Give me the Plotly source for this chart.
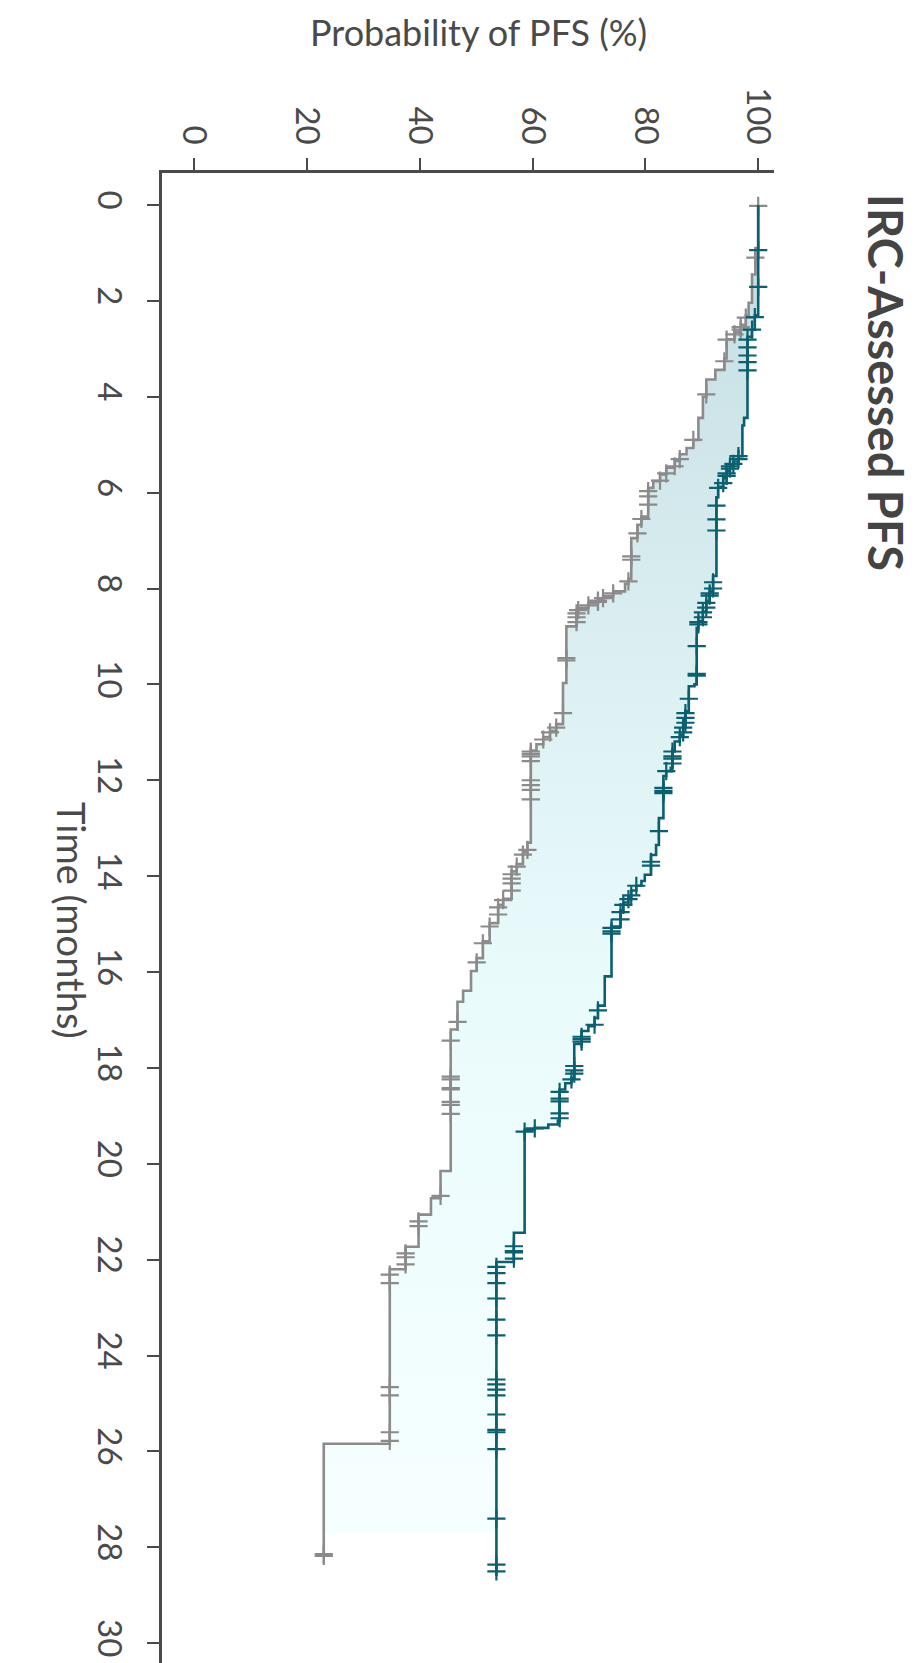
import numpy as np
import plotly.graph_objects as go

# --- data (time in months, PFS in %) ---
ctrl_times = [0, 0.9, 1.45, 2.04, 2.3, 2.5, 2.65, 2.8, 3.2, 3.44, 3.64, 4.0, 4.44, 4.9,
              5.07, 5.2, 5.34, 5.48, 5.62, 5.76, 5.9, 6.5, 6.67, 6.95, 7.8, 7.9, 8.06,
              8.16, 8.22, 8.3, 8.4, 8.5, 8.79, 9.97, 10.83, 10.97, 11.1, 11.25, 11.38,
              13.3, 13.5, 13.75, 13.9, 14.47, 14.6, 14.98, 15.36, 15.71, 15.98, 16.39,
              16.62, 17.2, 20.15, 20.72, 21.06, 21.73, 22.2, 25.84]
ctrl_surv = [100, 99.5, 98.9, 98.3, 97.8, 96.9, 95.8, 94.4, 94.0, 92.4, 90.8, 90.2, 89.4, 88.5,
             87.3, 86.1, 85.2, 83.7, 82.6, 81.4, 80.5, 79.3, 78.6, 77.5, 77.0, 76.4, 74.3,
             72.5, 71.6, 69.9, 68.1, 67.8, 66.0, 65.4, 64.2, 63.1, 61.9, 60.7, 59.7,
             59.1, 58.3, 57.2, 56.3, 54.8, 53.9, 52.4, 51.2, 50.1, 49.1, 47.7,
             46.7, 45.5, 43.7, 42.0, 39.8, 37.5, 34.7, 23.0]
ctrl_end = 28.2
ctrl_censor = [0.02, 1.1, 2.35, 2.55, 2.6, 2.7, 2.81, 3.26, 3.95, 4.9, 5.3, 5.45, 5.6, 5.75,
               5.97, 6.08, 6.25, 6.55, 6.85, 7.33, 7.4, 7.85, 8.1, 8.2, 8.25, 8.28, 8.35,
               8.45, 8.52, 8.6, 8.7, 9.45, 9.5, 10.6, 10.9, 11.0, 11.15, 11.4, 11.45, 11.5,
               11.6, 12.0, 12.1, 12.2, 12.4, 13.45, 13.55, 13.8, 13.96, 14.05, 14.15, 14.3,
               14.5, 14.65, 14.8, 15.05, 15.4, 15.8, 17.04, 17.43, 18.18, 18.24, 18.42,
               18.45, 18.71, 18.77, 18.96, 20.67, 21.2, 21.3, 21.87, 21.95, 22.1, 22.31,
               22.49, 24.66, 24.83, 25.6, 25.78, 28.14, 28.18]

trt_times = [0, 2.3, 2.6, 2.75, 4.44, 4.6, 5.24, 5.35, 5.45, 5.55, 5.7, 5.88, 6.1, 7.74,
             8.06, 8.27, 8.48, 8.68, 8.82, 10.0, 10.04, 10.56, 10.84, 11.05, 11.19, 11.4,
             11.74, 11.81, 11.91, 12.79, 13.35, 13.56, 13.97, 14.1, 14.2, 14.3, 14.44,
             14.55, 14.72, 15.05, 16.09, 16.7, 16.96, 17.13, 17.23, 17.5, 18.21, 18.32,
             18.45, 19.1, 19.18, 19.25, 19.29, 21.44, 22.05]
trt_surv = [100, 99.4, 98.9, 98.1, 97.5, 97.2, 96.5, 95.6, 95.0, 94.4, 93.8, 92.9, 92.6, 92.0,
            91.4, 90.8, 90.2, 89.4, 89.1, 88.7, 87.7, 87.1, 86.7, 86.1, 85.2, 84.8,
            84.5, 83.7, 83.2, 82.4, 81.9, 81.0, 79.9, 79.3, 78.4, 77.5, 77.0,
            76.1, 75.6, 74.0, 72.8, 71.6, 71.0, 69.9, 68.7, 67.4, 66.9, 65.8,
            64.8, 64.5, 62.8, 60.4, 58.6, 56.7, 53.6]
trt_end = 28.6
trt_censor = [0.94, 1.71, 2.34, 2.6, 2.81, 2.97, 3.14, 3.28, 3.45, 5.24, 5.3, 5.4, 5.45, 5.5,
              5.6, 5.65, 5.8, 5.9, 6.27, 6.56, 6.79, 7.87, 8.0, 8.1, 8.15, 8.3, 8.4, 8.5,
              8.6, 8.7, 8.75, 9.2, 9.78, 9.82, 10.3, 10.6, 10.7, 10.8, 10.9, 11.0, 11.1,
              11.4, 11.5, 11.55, 11.65, 11.81, 12.16, 12.22, 12.27, 13.06, 13.7, 13.78,
              14.2, 14.4, 14.48, 14.6, 14.75, 14.9, 15.08, 15.15, 15.2, 16.8, 17.1, 17.35,
              17.4, 17.45, 17.96, 18.05, 18.12, 18.24, 18.5, 18.64, 18.7, 18.95, 19.05,
              19.26, 19.33, 21.72, 21.82, 21.85, 21.98, 22.15, 22.28, 22.49, 22.81, 23.25,
              23.58, 24.5, 24.6, 24.71, 24.83, 25.23, 25.55, 25.6, 25.95, 27.4, 28.36, 28.5]

fill_end = 27.7
time_ticks = list(range(0, 31, 2))
pfs_ticks = [0, 20, 40, 60, 80, 100]

GRAY = "#8b8b8b"
TEAL = "#0b6070"
TEXT = "#4a4a4a"
FONT = "Lato"

W, H = 915, 1663
ML, MR, MT, MB = 154, 149, 165, 0


def step_path(times, surv, t_end):
    # vertices of a KM step curve, time running down the page
    xs, ys = [surv[0]], [times[0]]
    for i in range(1, len(times)):
        if times[i] > t_end:
            break
        xs += [surv[i - 1], surv[i]]
        ys += [times[i], times[i]]
    xs.append(xs[-1])
    ys.append(t_end)
    return xs, ys


def surv_at(times, surv, t):
    idx = np.searchsorted(times, t, side="right") - 1
    return [surv[i] for i in idx]


fig = go.Figure()

# shaded band between the curves
tx, ty = step_path(trt_times, trt_surv, fill_end)
gx, gy = step_path(ctrl_times, ctrl_surv, fill_end)
fig.add_trace(go.Scatter(
    x=tx + gx[::-1], y=ty + gy[::-1],
    mode="lines", fill="toself", line=dict(width=0),
    fillgradient=dict(type="vertical", start=0, stop=fill_end,
                      colorscale=[[0, "#c3dce1"], [0.35, "#dcf0f2"],
                                  [0.6, "#eafbfc"], [1, "#f6ffff"]]),
    hoverinfo="skip", showlegend=False
))

for times, surv, t_end, cens, col in [
        (ctrl_times, ctrl_surv, ctrl_end, ctrl_censor, GRAY),
        (trt_times, trt_surv, trt_end, trt_censor, TEAL)]:
    xs, ys = step_path(times, surv, t_end)
    fig.add_trace(go.Scatter(x=xs, y=ys, mode="lines",
                             line=dict(color=col, width=2.6),
                             hoverinfo="skip", showlegend=False))
    fig.add_trace(go.Scatter(x=surv_at(times, surv, cens), y=cens, mode="markers",
                             marker=dict(symbol="cross-thin", size=13,
                                         line=dict(color=col, width=2.2)),
                             hoverinfo="skip", showlegend=False))

fig.update_xaxes(side="top", range=[-5.67, 102.8], tickvals=pfs_ticks,
                 tickangle=90, ticks="outside", ticklen=12, tickwidth=2.2,
                 tickcolor=TEXT, showline=True, linecolor=TEXT, linewidth=2.6,
                 showgrid=False, zeroline=False, ticklabelstandoff=2,
                 tickfont=dict(family=FONT, size=33, color=TEXT))
fig.update_yaxes(range=[30.58, -0.667], tickvals=time_ticks, tickangle=90,
                 ticks="outside", ticklen=12, tickwidth=2.2, tickcolor=TEXT,
                 showline=True, linecolor=TEXT, linewidth=2.6,
                 showgrid=False, zeroline=False, ticklabelstandoff=10,
                 tickfont=dict(family=FONT, size=33, color=TEXT))


def px(x, y):
    # pixel position -> paper coordinates
    return (x - ML) / (W - ML - MR), (H - MB - y) / (H - MT - MB)


labels = [
    (470, 24, "Probability of PFS (%)", 0, 36, TEXT),
    (64, 912, "Time (months)", 90, 38, TEXT),
    (878, 374, "<b>IRC-Assessed PFS</b>", 90, 47, "#444444"),
]
for lx, ly, txt, ang, size, col in labels:
    ax, ay = px(lx, ly)
    fig.add_annotation(x=ax, y=ay, xref="paper", yref="paper", showarrow=False,
                       xanchor="center", yanchor="middle", text=txt, textangle=ang,
                       font=dict(family=FONT, size=size, color=col))

fig.update_layout(width=W, height=H, margin=dict(l=ML, r=MR, t=MT, b=MB),
                  plot_bgcolor="white", paper_bgcolor="white")

fig.write_html("out.html")
